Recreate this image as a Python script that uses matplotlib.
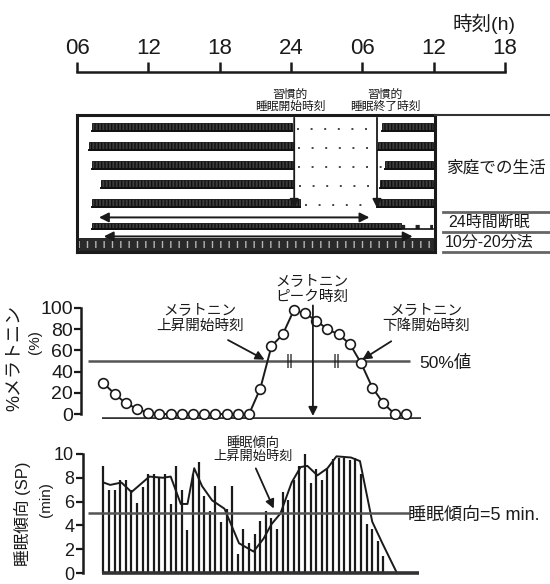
import matplotlib
matplotlib.use("Agg")
import matplotlib.pyplot as plt
from matplotlib.patches import Rectangle
from matplotlib.lines import Line2D
import numpy as np

plt.rcParams['font.family'] = ['Liberation Sans', 'Noto Sans CJK JP', 'DejaVu Sans']
plt.rcParams['hatch.linewidth'] = 1.0

# ---------------- data ----------------
clock_ticks = [6, 12, 18, 24, 30, 36, 42]
clock_labels = ["06", "12", "18", "24", "06", "12", "18"]

# actogram rows (hours on the clock axis, 6 -> 42)
home_wake_start = [7.25, 7.0, 7.25, 8.0, 7.25]
home_sleep_on = [23.9, 24.0, 24.0, 24.1, 24.6]
home_sleep_off = [31.4, 31.1, 31.7, 31.25, 31.0]
row_end = 35.7
depriv_active = (7.25, 33.0)
depriv_sparse = (33.0, 35.7)
nap_active = (6.2, 35.7)
habitual_onset = 24.1
habitual_offset = 31.0
depriv_arrow = (7.6, 30.6)
nap_arrow = (8.0, 34.2)

# melatonin (% of peak), hourly samples
mel_hours = list(range(28))
melatonin = [29, 19, 10, 5, 1, 0, 0, 0, 0, 0, 0, 0, 0, 0,
             24, 64, 75, 98, 95, 88, 80, 75, 66, 48, 25, 10, 0, 0]
mel_onset = 14.6
mel_offset = 23.0
mel_peak = 18.7

# sleep propensity (min), half-hourly naps
sp_hours = [0.5 * i for i in range(51)]
sp_bars = [9.0, 7.0, 7.0, 7.8, 7.8, 7.0, 5.9, 7.2, 8.3, 8.3,
           8.0, 8.3, 5.8, 9.0, 7.0, 3.6, 8.3, 9.3, 6.5, 5.2,
           7.3, 4.3, 5.4, 7.3, 1.6, 3.7, 2.5, 3.3, 4.4, 5.2,
           4.6, 3.7, 6.8, 6.1, 7.8, 9.0, 10.0, 7.6, 8.7, 7.8,
           8.7, 9.6, 9.7, 9.7, 9.5, 9.7, 8.3, 4.1, 3.7, 2.7, 1.4]
sp_curve_hours = [0.0, 0.6, 1.6, 2.5, 4.1, 5.3, 6.0, 6.9, 7.5, 8.1, 8.8, 9.7,
                  10.8, 12.1, 13.4, 14.3, 15.0, 15.8, 16.8, 17.6, 18.2, 19.1,
                  20.0, 20.8, 22.1, 22.9, 24.0, 24.9, 26.2]
sp_curve = [7.6, 7.4, 7.6, 6.8, 8.1, 8.0, 8.1, 5.8, 5.8, 8.8, 7.3, 6.1,
            5.4, 2.5, 1.8, 2.9, 4.1, 5.0, 7.6, 8.9, 9.0, 8.2, 8.8, 9.8,
            9.7, 9.4, 4.3, 2.5, 0.0]
sp_threshold = 5
sp_rise = 15.3

# ---------------- layout helpers ----------------
W, H = 550, 584
fig = plt.figure(figsize=(W / 100, H / 100), dpi=100)


def px_axes(x0, y0, x1, y1):
    return fig.add_axes([x0 / W, 1 - y1 / H, (x1 - x0) / W, (y1 - y0) / H])


def ftext(x, y, s, **kw):
    return fig.text(x / W, 1 - y / H, s, **kw)


def fline(x0, x1, y, lw=1.8, color='#333333'):
    fig.add_artist(Line2D([x0 / W, x1 / W], [1 - y / H, 1 - y / H],
                          transform=fig.transFigure, lw=lw, color=color))


INK = '#1a1a1a'

# ---------------- top clock axis ----------------
ax_t = px_axes(77, 72, 505, 80)
ax_t.set_xlim(6, 42)
ax_t.set_ylim(0, 1)
for s in ['left', 'right', 'bottom']:
    ax_t.spines[s].set_visible(False)
ax_t.spines['top'].set_linewidth(1.8)
ax_t.spines['top'].set_color(INK)
ax_t.set_yticks([])
ax_t.xaxis.tick_top()
ax_t.set_xticks(clock_ticks)
ax_t.set_xticklabels(clock_labels, fontsize=16, color=INK)
ax_t.tick_params(axis='x', direction='out', length=7, width=1.8, pad=2, colors=INK)
ax_t.patch.set_alpha(0)
ftext(484, 24, "時刻(h)", fontsize=14, ha='center', va='center', color=INK)

# ---------------- actogram ----------------
ax_a = px_axes(77, 115, 435, 252)
ax_a.set_xlim(6, 6 + 358 / 12)
ax_a.set_ylim(6.37, -0.84)
ax_a.set_xticks([])
ax_a.set_yticks([])
for s in ax_a.spines.values():
    s.set_linewidth(2.2)
    s.set_color(INK)

band_h = 0.42


def activity(ax, row, t0, t1, h=band_h, hatch='|||||', face='#3c3c3c'):
    ax.add_patch(Rectangle((t0, row - h), t1 - t0, h, facecolor=face,
                           edgecolor='#111111', hatch=hatch, lw=0.6))
    ax.plot([t0, t1], [row, row], color='#111111', lw=1.4)


for r in range(5):
    activity(ax_a, r, home_wake_start[r], home_sleep_on[r])
    activity(ax_a, r, home_sleep_off[r], row_end)
    ax_a.plot([home_sleep_on[r] + 0.4, home_sleep_off[r] - 0.3], [r - 0.08, r - 0.08],
              color='#444444', lw=1.4, linestyle=(0, (1, 6)))

# 24 h sleep deprivation row
depriv_row = 5.16
activity(ax_a, depriv_row, depriv_active[0], depriv_active[1], h=0.32)
ax_a.plot([depriv_sparse[0], depriv_sparse[1]], [depriv_row - 0.12] * 2,
          color='#222222', lw=3, linestyle=(0, (1, 2.5)))
ax_a.plot([depriv_sparse[0], depriv_sparse[1]], [depriv_row] * 2,
          color='#111111', lw=1.2)

# 10-20 min protocol row
nap_row = 6.25
ax_a.add_patch(Rectangle((nap_active[0], nap_row - 0.6), nap_active[1] - nap_active[0],
                         0.6, facecolor='#2a2a2a', edgecolor='#111111', lw=0.6))
ax_a.add_patch(Rectangle((nap_active[0], nap_row - 0.45), nap_active[1] - nap_active[0],
                         0.38, fill=False, hatch='||', edgecolor='#b5b5b5', lw=0))

arrow_kw = dict(arrowstyle='-|>', color=INK, lw=1.3, mutation_scale=13)
for t in (habitual_onset, habitual_offset):
    ax_a.annotate('', xy=(t, 4.2), xytext=(t, -0.84), arrowprops=arrow_kw)
for (a, b), yv in ((depriv_arrow, 4.55), (nap_arrow, 5.55)):
    ax_a.annotate('', xy=(b, yv), xytext=(a, yv),
                  arrowprops=dict(arrowstyle='<|-|>', color=INK, lw=1.4,
                                  mutation_scale=14))

ftext(290, 101, "習慣的\n睡眠開始時刻", fontsize=8.5, ha='center', va='center',
      linespacing=1.05, color=INK)
ftext(385, 101, "習慣的\n睡眠終了時刻", fontsize=8.5, ha='center', va='center',
      linespacing=1.05, color=INK)

fline(435, 550, 115, lw=1.5)
fline(443, 550, 212, lw=2.0, color='#666666')
fline(443, 550, 232, lw=2.0, color='#666666')
fline(443, 550, 252, lw=2.0, color='#666666')
ftext(496, 168, "家庭での生活", fontsize=12, ha='center', va='center', color=INK)
ftext(448, 222, "24時間断眠", fontsize=11.5, ha='left', va='center', color=INK)
ftext(445, 242, "10分-20分法", fontsize=11.5, ha='left', va='center', color=INK)

# ---------------- melatonin panel ----------------
ax_m = px_axes(81.4, 303, 421, 419)
ax_m.set_xlim(-1.973, 28.35)
ax_m.set_ylim(-4.7, 104.7)
for s in ['right', 'top', 'bottom']:
    ax_m.spines[s].set_visible(False)
ax_m.spines['left'].set_bounds(0, 100)
ax_m.spines['left'].set_linewidth(1.8)
ax_m.spines['left'].set_color(INK)
ax_m.set_xticks([])
ax_m.set_yticks([0, 20, 40, 60, 80, 100])
ax_m.tick_params(axis='y', direction='out', length=5, width=1.6, labelsize=14,
                 pad=1, colors=INK)
ax_m.patch.set_alpha(0)
ax_m.hlines(-4.5, -0.13, 28.35, color='#333333', lw=2.6)
ax_m.hlines(50, -1.35, 27.4, color='#555555', lw=1.8)
ax_m.plot(mel_hours, melatonin, color=INK, lw=1.4, marker='o', markersize=7,
          markerfacecolor='white', markeredgecolor=INK, markeredgewidth=1.2, zorder=3)
ax_m.annotate('', xy=(mel_onset, 50), xytext=(10.9, 71), arrowprops=arrow_kw)
ax_m.annotate('', xy=(mel_offset - 0.1, 50), xytext=(25.9, 70), arrowprops=arrow_kw)
ax_m.annotate('', xy=(mel_peak, -4.5), xytext=(mel_peak, 105), arrowprops=arrow_kw,
              annotation_clip=False)
for t in ((mel_onset + mel_peak) / 2, (mel_peak + mel_offset) / 2):
    ax_m.text(t, 50, "||", fontsize=11, ha='center', va='center', color=INK)

ftext(200, 318, "メラトニン\n上昇開始時刻", fontsize=10.5, ha='center', va='center',
      linespacing=1.1, color=INK)
ftext(312, 289, "メラトニン\nピーク時刻", fontsize=10.5, ha='center', va='center',
      linespacing=1.1, color=INK)
ftext(426, 318, "メラトニン\n下降開始時刻", fontsize=10.5, ha='center', va='center',
      linespacing=1.1, color=INK)
ftext(419, 363, "50%値", fontsize=12.5, ha='left', va='center', color=INK)
ftext(14, 358, "%メラトニン", fontsize=13, rotation=90, ha='center', va='center',
      color=INK)
ftext(35, 342, "(%)", fontsize=11, rotation=90, ha='center', va='center', color=INK)

# ---------------- sleep propensity panel ----------------
ax_s = px_axes(82.5, 448, 421, 577)
ax_s.set_xlim(-1.875, 28.35)
ax_s.set_ylim(-0.336, 10.5)
for s in ['right', 'top', 'bottom']:
    ax_s.spines[s].set_visible(False)
ax_s.spines['left'].set_bounds(0, 10)
ax_s.spines['left'].set_linewidth(1.8)
ax_s.spines['left'].set_color(INK)
ax_s.set_xticks([])
ax_s.set_yticks([0, 2, 4, 6, 8, 10])
ax_s.tick_params(axis='y', direction='out', length=5, width=1.6, labelsize=13,
                 pad=1, colors=INK)
ax_s.patch.set_alpha(0)
ax_s.vlines(sp_hours, 0, sp_bars, color=INK, lw=1.6)
ax_s.plot(sp_curve_hours, sp_curve, color=INK, lw=1.4)
ax_s.hlines(0, -0.13, 28.2, color='#333333', lw=2.6)
ax_s.hlines(sp_threshold, -1.38, 27.3, color='#555555', lw=1.8)
ax_s.annotate('', xy=(sp_rise, 5.2), xytext=(13.5, 9.0), arrowprops=arrow_kw)
ftext(253, 450, "睡眠傾向\n上昇開始時刻", fontsize=9.5, ha='center', va='center',
      linespacing=1.05, color=INK)
ftext(408, 515, "睡眠傾向=5 min.", fontsize=13, ha='left', va='center', color=INK)
ftext(23, 514, "睡眠傾向 (SP)", fontsize=12, rotation=90, ha='center', va='center',
      color=INK)
ftext(46, 500, "(min)", fontsize=11, rotation=90, ha='center', va='center', color=INK)

fig.savefig("out.png", dpi=100, facecolor='white')
